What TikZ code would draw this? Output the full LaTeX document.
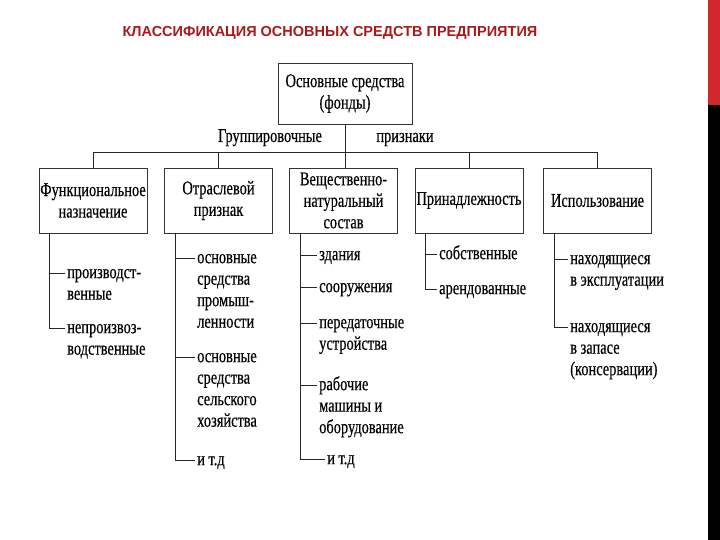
\documentclass[tikz,border=0pt]{standalone}
\usepackage{fontspec}
\setmainfont{Liberation Serif}[FakeStretch=0.74,FakeBold=0.35]
\newfontfamily\titlefont{Liberation Sans}
\usepackage{tikz}
\definecolor{titlered}{RGB}{170,25,25}
\definecolor{barred}{RGB}{208,40,44}
\newcommand\itemtop{\rule{0pt}{14pt}}

\begin{document}
\begin{tikzpicture}[x=1pt,y=-1pt,
  box/.style={draw=black!80, line width=0.9pt, minimum width=108pt, minimum height=65pt, inner sep=0pt, align=center, font=\fontsize{19.5}{21.5}\selectfont},
  item/.style={anchor=north west, inner sep=0pt, align=left, font=\fontsize{19.5}{21.5}\selectfont},
  link/.style={draw=black!85, line width=0.8pt}]
\useasboundingbox (0,0) rectangle (720,540);
\fill[barred] (708,0) rectangle (720,105);
\fill[black] (708,105) rectangle (720,540);
\node[text=titlered, font=\titlefont\bfseries\fontsize{14.5}{17}\selectfont] (title) at (330,33) {КЛАССИФИКАЦИЯ ОСНОВНЫХ СРЕДСТВ ПРЕДПРИЯТИЯ};
\node[box, minimum width=134pt, minimum height=61pt] (top) at (345,93.5) {Основные средства\\(фонды)};
\node[item, anchor=base] (gr1) at (270,142) {Группировочные};
\node[item, anchor=base] (gr2) at (405,142) {признаки};
\node[box] (fn) at (93,200.5) {Функциональное\\назначение};
\node[box] (ot) at (218.5,200.5) {Отраслевой\\признак};
\node[box] (ve) at (343.5,200.5) {Вещественно-\\натуральный\\состав};
\node[box] (pr) at (469,200.5) {Принадлежность};
\node[box] (is) at (597.5,200.5) {Использование};
\coordinate (bus) at (0,152);
\draw[link] (top.south) -- (top.south |- ve.north);
\draw[link] (fn.north) |- (is.north |- bus) -- (is.north);
\draw[link] (ot.north) -- (ot.north |- bus);
\draw[link] (pr.north) -- (pr.north |- bus);
\node[item] (fn1) at (67,264) {\itemtop производст-\\венные};
\node[item] (fn2) at (67,319) {\itemtop непроизвоз-\\водственные};
\node[item] (ot1) at (197,249) {\itemtop основные\\средства\\промыш-\\ленности};
\node[item] (ot2) at (197,348) {\itemtop основные\\средства\\сельского\\хозяйства};
\node[item] (ot3) at (197,451) {\itemtop и т.д};
\node[item] (ve1) at (319,246) {\itemtop здания};
\node[item] (ve2) at (319,278) {\itemtop сооружения};
\node[item] (ve3) at (319,314) {\itemtop передаточные\\устройства};
\node[item] (ve4) at (319,376) {\itemtop рабочие\\машины и\\оборудование};
\node[item] (ve5) at (327,450) {\itemtop и т.д};
\node[item] (pr1) at (439,245) {\itemtop собственные};
\node[item] (pr2) at (439,280) {\itemtop арендованные};
\node[item] (is1) at (570,250) {\itemtop находящиеся\\в эксплуатации};
\node[item] (is2) at (570,318) {\itemtop находящиеся\\в запасе\\(консервации)};
\coordinate (fnt) at ([xshift=11pt]fn.south west);
\coordinate (ott) at ([xshift=11pt]ot.south west);
\coordinate (vet) at ([xshift=11pt]ve.south west);
\coordinate (prt) at ([xshift=11pt]pr.south west);
\coordinate (ist) at ([xshift=11pt]is.south west);
\coordinate (fn1t) at ([xshift=-2pt,yshift=-9pt]fn1.north west);
\coordinate (fn2t) at ([xshift=-2pt,yshift=-9pt]fn2.north west);
\coordinate (ot1t) at ([xshift=-2pt,yshift=-9pt]ot1.north west);
\coordinate (ot2t) at ([xshift=-2pt,yshift=-9pt]ot2.north west);
\coordinate (ot3t) at ([xshift=-2pt,yshift=-9pt]ot3.north west);
\coordinate (ve1t) at ([xshift=-2pt,yshift=-9pt]ve1.north west);
\coordinate (ve2t) at ([xshift=-2pt,yshift=-9pt]ve2.north west);
\coordinate (ve3t) at ([xshift=-2pt,yshift=-9pt]ve3.north west);
\coordinate (ve4t) at ([xshift=-2pt,yshift=-9pt]ve4.north west);
\coordinate (ve5t) at ([xshift=-2pt,yshift=-9pt]ve5.north west);
\coordinate (pr1t) at ([xshift=-2pt,yshift=-9pt]pr1.north west);
\coordinate (pr2t) at ([xshift=-2pt,yshift=-9pt]pr2.north west);
\coordinate (is1t) at ([xshift=-2pt,yshift=-9pt]is1.north west);
\coordinate (is2t) at ([xshift=-2pt,yshift=-9pt]is2.north west);
\draw[link] (fnt) |- (fn2t);
\draw[link] (fnt |- fn1t) -- (fn1t);
\draw[link] (ott) |- (ot3t);
\draw[link] (ott |- ot1t) -- (ot1t);
\draw[link] (ott |- ot2t) -- (ot2t);
\draw[link] (vet) |- (ve5t);
\draw[link] (vet |- ve1t) -- (ve1t);
\draw[link] (vet |- ve2t) -- (ve2t);
\draw[link] (vet |- ve3t) -- (ve3t);
\draw[link] (vet |- ve4t) -- (ve4t);
\draw[link] (prt) |- (pr2t);
\draw[link] (prt |- pr1t) -- (pr1t);
\draw[link] (ist) |- (is2t);
\draw[link] (ist |- is1t) -- (is1t);
\end{tikzpicture}
\end{document}
